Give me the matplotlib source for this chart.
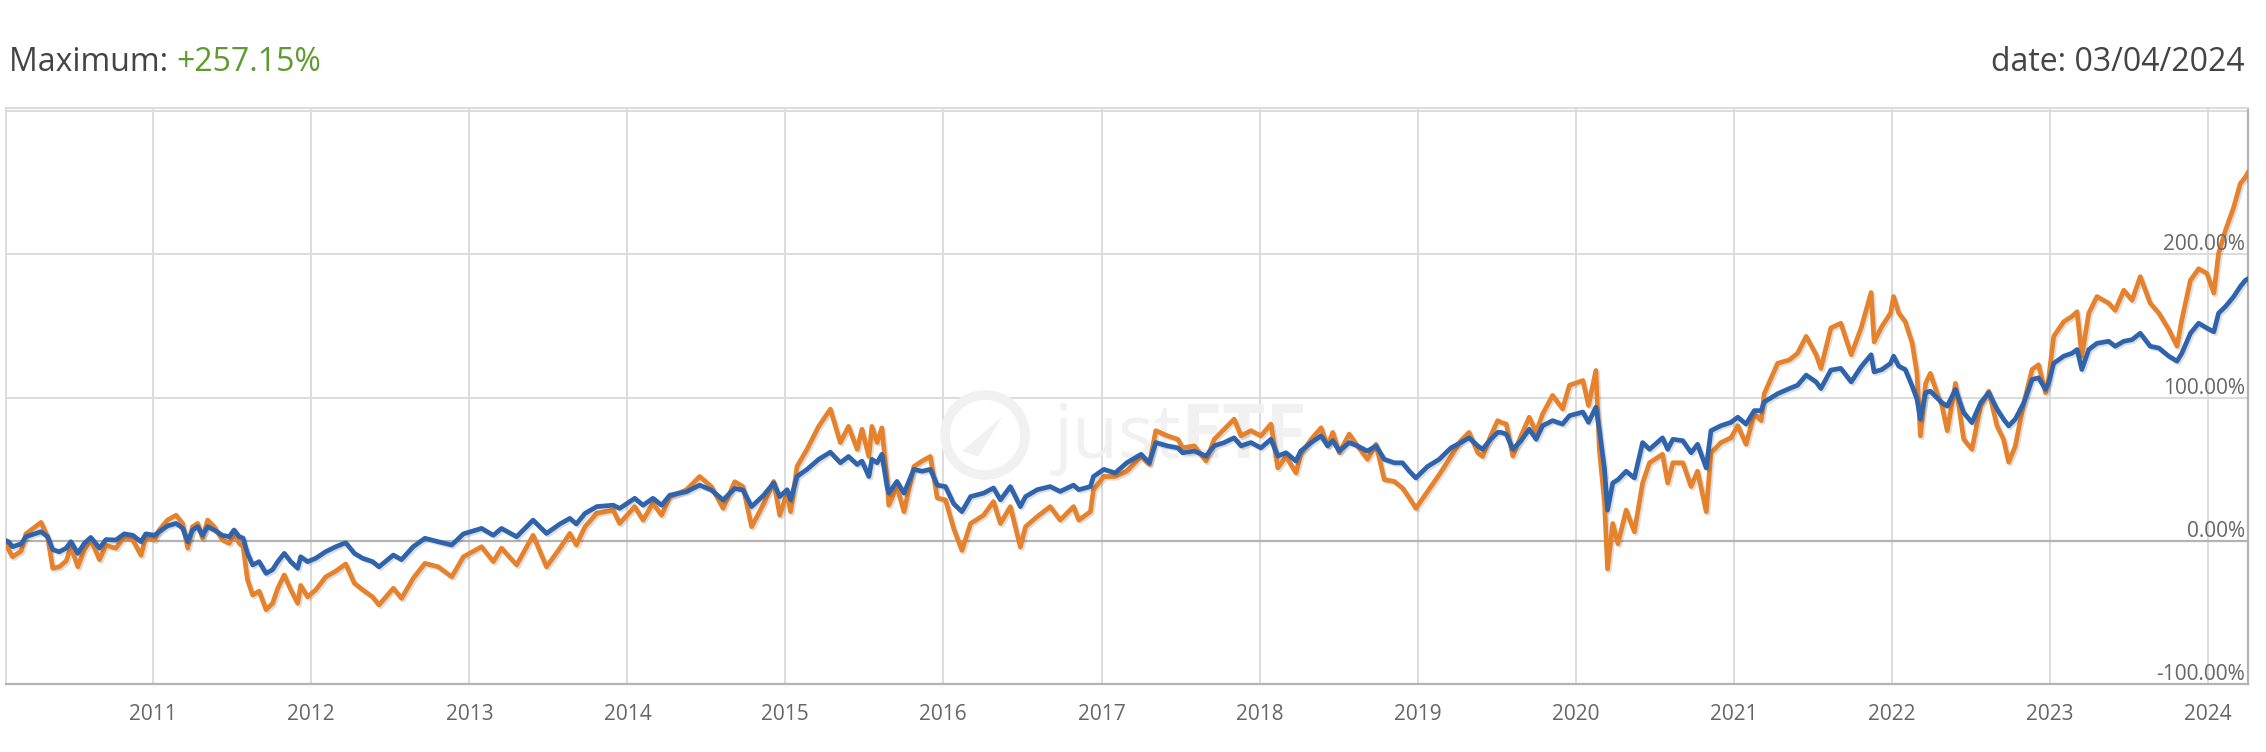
import matplotlib
matplotlib.use("Agg")
import matplotlib.pyplot as plt
import matplotlib.patheffects as pe
import matplotlib.transforms as mtransforms
from matplotlib.patches import Ellipse, Polygon
import pandas as pd

plt.rcParams['font.family'] = ['Open Sans', 'DejaVu Sans']

# ---------------- data ----------------
dates = [
    "2010-01-26", "2010-02-01", "2010-02-10", "2010-03-02", "2010-03-13", "2010-04-17", "2010-05-02",
    "2010-05-14", "2010-05-29", "2010-06-14", "2010-06-25", "2010-07-11", "2010-07-26", "2010-08-10",
    "2010-08-30", "2010-09-14", "2010-10-07", "2010-10-26", "2010-11-15", "2010-12-04", "2010-12-15",
    "2011-01-04", "2011-01-15", "2011-02-03", "2011-02-23", "2011-03-10", "2011-03-22", "2011-04-02",
    "2011-04-14", "2011-04-25", "2011-05-07", "2011-05-22", "2011-06-10", "2011-06-26", "2011-07-07",
    "2011-07-19", "2011-07-28", "2011-08-07", "2011-08-19", "2011-09-03", "2011-09-19", "2011-10-04",
    "2011-10-16", "2011-10-31", "2011-11-15", "2011-12-01", "2011-12-08", "2011-12-24", "2012-01-12",
    "2012-02-04", "2012-02-27", "2012-03-21", "2012-04-10", "2012-04-29", "2012-05-22", "2012-06-06",
    "2012-07-09", "2012-07-28", "2012-08-24", "2012-09-20", "2012-10-21", "2012-11-21", "2012-12-18",
    "2013-01-29", "2013-02-25", "2013-03-16", "2013-04-20", "2013-05-28", "2013-06-28", "2013-07-29",
    "2013-08-21", "2013-09-05", "2013-09-25", "2013-10-22", "2013-11-29", "2013-12-14", "2014-01-18",
    "2014-02-06", "2014-03-01", "2014-03-21", "2014-04-09", "2014-05-17", "2014-06-17", "2014-07-14",
    "2014-08-10", "2014-09-06", "2014-09-25", "2014-10-15", "2014-11-12", "2014-12-05", "2014-12-19",
    "2015-01-05", "2015-01-13", "2015-01-28", "2015-02-20", "2015-03-19", "2015-04-15", "2015-05-08",
    "2015-05-27", "2015-06-16", "2015-06-27", "2015-07-13", "2015-07-20", "2015-08-01", "2015-08-12",
    "2015-08-24", "2015-08-28", "2015-09-16", "2015-10-02", "2015-10-25", "2015-11-13", "2015-12-02",
    "2015-12-18", "2016-01-06", "2016-01-25", "2016-02-13", "2016-03-04", "2016-04-03", "2016-04-26",
    "2016-05-12", "2016-06-04", "2016-06-27", "2016-07-09", "2016-08-05", "2016-09-04", "2016-09-27",
    "2016-10-28", "2016-11-09", "2016-12-06", "2016-12-13", "2017-01-06", "2017-02-01", "2017-02-28",
    "2017-04-02", "2017-04-21", "2017-05-06", "2017-06-02", "2017-06-26", "2017-07-07", "2017-08-03",
    "2017-08-30", "2017-09-18", "2017-10-11", "2017-11-03", "2017-11-19", "2017-12-12", "2018-01-04",
    "2018-01-27", "2018-02-12", "2018-03-03", "2018-03-26", "2018-04-06", "2018-04-30", "2018-05-23",
    "2018-06-07", "2018-06-19", "2018-07-04", "2018-07-27", "2018-08-15", "2018-09-07", "2018-09-27",
    "2018-10-16", "2018-11-08", "2018-11-27", "2018-12-13", "2018-12-28", "2019-01-24", "2019-02-20",
    "2019-03-19", "2019-04-11", "2019-04-30", "2019-05-20", "2019-05-31", "2019-06-19", "2019-07-05",
    "2019-07-13", "2019-07-25", "2019-08-09", "2019-08-28", "2019-09-16", "2019-10-02", "2019-10-17",
    "2019-11-09", "2019-12-02", "2019-12-18", "2020-01-18", "2020-01-31", "2020-02-17", "2020-02-25",
    "2020-03-08", "2020-03-15", "2020-03-27", "2020-04-08", "2020-04-27", "2020-05-16", "2020-06-04",
    "2020-06-20", "2020-07-20", "2020-08-01", "2020-08-13", "2020-09-05", "2020-09-24", "2020-10-09",
    "2020-10-29", "2020-11-09", "2020-12-02", "2020-12-25", "2021-01-10", "2021-01-29", "2021-02-17",
    "2021-03-05", "2021-03-12", "2021-04-12", "2021-05-09", "2021-05-28", "2021-06-17", "2021-07-10",
    "2021-07-21", "2021-08-13", "2021-09-05", "2021-09-29", "2021-10-22", "2021-11-14", "2021-11-21",
    "2021-12-09", "2021-12-29", "2022-01-05", "2022-01-17", "2022-02-01", "2022-02-17", "2022-02-28",
    "2022-03-08", "2022-03-20", "2022-03-31", "2022-04-15", "2022-04-27", "2022-05-09", "2022-05-28",
    "2022-06-16", "2022-07-05", "2022-07-25", "2022-08-13", "2022-09-01", "2022-09-16", "2022-09-28",
    "2022-10-13", "2022-11-02", "2022-11-21", "2022-12-06", "2022-12-22", "2022-12-29", "2023-01-10",
    "2023-02-02", "2023-02-21", "2023-03-05", "2023-03-16", "2023-04-01", "2023-04-20", "2023-05-17",
    "2023-06-01", "2023-06-21", "2023-07-10", "2023-07-29", "2023-08-21", "2023-09-10", "2023-10-03",
    "2023-10-22", "2023-11-02", "2023-11-22", "2023-12-11", "2023-12-30", "2024-01-15", "2024-01-26",
    "2024-02-11", "2024-03-01", "2024-03-16", "2024-03-28", "2024-04-03",
]

blue_pct = [
    0, -0.5, -4, -2, 3, 6.5, 3,
    -6, -7.5, -5, -0.5, -8.6, -1.6, 2.5,
    -5, 1, 0.7, 5, 4, -0.5, 5,
    4, 6.5, 10.5, 12.3, 9, -0.5, 7.7,
    10, 4, 10, 7.7, 4, 3, 7.7,
    3, 2, -8.6, -16.7, -14.4, -22.6, -20,
    -14.4, -8.6, -14.4, -19, -11, -14.4, -12,
    -7.4, -4, -1.2, -8.6, -12, -14.4, -18,
    -9.8, -13, -4, 1.9, -0.5, -2.8, 5,
    8.8, 4, 8.8, 3, 14.6, 5.3, 11.9,
    15.8, 11.9, 19.3, 24, 25, 22.8, 29.8,
    25, 29.8, 25, 32, 34.4, 39, 35.6,
    28.6, 36.7, 35.6, 24, 32, 40.5, 31,
    35.8, 28.7, 45, 50, 57, 62, 54.6,
    59, 53.4, 55.8, 45, 57, 54.6, 60.5,
    38, 33.4, 41.6, 33.4, 50, 48.7, 50,
    39, 38, 26, 20.5, 31, 33.4, 37,
    28.7, 38, 24, 31, 35.8, 38, 34.6,
    39, 35.8, 38, 45, 50, 47.5, 54.6,
    60.5, 54.6, 68.7, 66.4, 65, 61.6, 62.8,
    59.3, 66.4, 68.7, 72, 66.4, 68.7, 65,
    71, 59.3, 61.6, 55.8, 62.8, 68.7, 73.4,
    66.4, 70, 62.8, 68.7, 66.4, 62.8, 66.4,
    57, 54.6, 54.6, 48.7, 44, 52, 57,
    65, 68.7, 72, 66.4, 64, 71, 75.8,
    75.8, 74.6, 64, 70, 78, 71, 80.5,
    84, 81.6, 87.5, 90, 82.8, 93.4, 78,
    50, 21.6, 40.5, 42.8, 48.7, 44, 68.7,
    64, 72, 64, 71, 70, 61.6, 67.5,
    51, 77, 80.5, 82.8, 86.4, 81.6, 91,
    91, 97, 102.8, 106.4, 108.7, 115.8, 111,
    106.4, 119.3, 120.5, 111, 121.6, 130, 118,
    119.7, 124, 129, 122, 119.7, 108, 99,
    85, 103.5, 104.6, 100, 96.5, 94.2, 105.8,
    89.6, 82.6, 96.5, 103.5, 92, 85, 80.3,
    85, 96.5, 112.7, 113.9, 105.8, 110, 124,
    129, 131, 133.6, 119.7, 133.6, 138, 139.4,
    135.9, 139.4, 140.5, 145, 135.9, 134.7, 129,
    125.5, 131, 145, 152, 148.6, 146, 159,
    163.7, 170.6, 177.5, 182, 183,
]

orange_pct = [
    0, -6, -11, -7, 5, 13, 3,
    -19, -18, -14, -4, -18, -6, 0.7,
    -13, -3, -5, 3, 0.7, -10, 3,
    0.7, 7.7, 14.6, 18, 12.3, -5, 10,
    12.3, 2, 14.6, 10, 0.7, -1.6, 5,
    -1.6, -4, -27, -37.7, -35, -48, -43.5,
    -33, -23.7, -34, -43.5, -31, -39, -34,
    -25, -21, -16, -29.5, -34, -39, -44.6,
    -33, -40, -26, -15.6, -18, -25, -11,
    -4, -14.4, -5, -16.7, 4, -18, -5,
    5.3, -2.8, 10, 19.3, 21.6, 12.3, 24,
    14.6, 26.3, 18, 31, 35.6, 45, 38,
    22.8, 41.4, 38, 10, 26, 41.6, 18,
    33.4, 20.5, 52, 64, 80, 92, 68.7,
    80, 64, 78, 59, 80, 68.7, 79,
    42.8, 25, 38, 20.5, 52, 55.8, 59,
    30, 28.7, 8.7, -6.6, 12.2, 18, 27.5,
    12.2, 24, -4.2, 10, 17, 24, 14.6,
    24, 14.6, 20.5, 35.8, 45, 45, 48.7,
    59, 53.4, 77, 73.4, 71, 65, 66.4,
    55.8, 71, 78, 85, 73.4, 77, 73.4,
    81.6, 51, 59, 47.5, 60.5, 71, 79,
    66.4, 75.8, 61.6, 74.6, 66.4, 57, 67.5,
    42.8, 41.6, 37, 30, 22.8, 34.6, 46.3,
    59, 70, 75.8, 61.6, 59, 73.4, 84,
    82.8, 81.6, 59.3, 73.4, 86.4, 75.8, 88.7,
    101.6, 92.2, 108.7, 112, 94.6, 119, 64,
    26.4, -19.5, 12.2, -1.9, 21.6, 6.4, 40.5,
    54.6, 60.5, 40.5, 54.6, 54.6, 38, 48.7,
    20.5, 61.6, 68.7, 72, 80.5, 67.5, 88.7,
    84, 102.8, 124, 126.4, 131, 142.8, 130,
    120.5, 148.7, 152, 130, 148.7, 173.4, 139,
    149.8, 159, 170.6, 159, 153, 138, 117,
    73.4, 110, 117, 103.5, 94.2, 77, 110,
    71, 64, 94.2, 104.6, 80.3, 71, 55,
    66, 96.5, 119.7, 123, 103.5, 112.7, 142.8,
    153, 156.7, 160, 129, 159, 170.6, 166,
    161, 175, 168, 184.5, 166, 159, 147.5,
    136, 154.4, 182, 190, 186.8, 173, 200.7,
    216.9, 233, 249.3, 254, 257.15,
]

year_ticks = [2011, 2012, 2013, 2014, 2015, 2016, 2017, 2018, 2019, 2020, 2021, 2022, 2023, 2024]
y_grid = [-100, 0, 100, 200, 300]
y_labels = [-100, 0, 100, 200]
max_text = "+257.15%"
date_text = "date: 03/04/2024"
x_start, x_end = "2010-01-26", "2024-04-03"

# ---------------- figure ----------------
W, H = 2266, 752
fig = plt.figure(figsize=(W / 100, H / 100), dpi=100)
ax = fig.add_axes([6 / W, (H - 684.3) / H, (2248 - 6) / W, (684.3 - 108) / H])
r = fig.canvas.get_renderer()

t = pd.to_datetime(dates)
ax.set_xlim(pd.Timestamp(x_start), pd.Timestamp(x_end))
ax.set_ylim(-100, 302.2)

grid_c = "#dcdcdc"
dark_c = "#b3b3b3"
wm_c = "#f1f1f1"

# grid
for yr in year_ticks:
    ax.axvline(pd.Timestamp(f"{yr}-01-01"), color=grid_c, lw=1.4, zorder=0)
for v in y_grid:
    if v == 0:
        ax.axhline(v, color=dark_c, lw=1.6, zorder=1)
    elif v != -100:
        ax.axhline(v, color=grid_c, lw=1.4, zorder=0)

# watermark (justETF logo), kept inside the axes so it stays below the lines
wm1 = ax.text(1053 / W, 1 - 458 / H, "just", transform=fig.transFigure, fontsize=54,
              color=wm_c, fontweight="normal", ha="left", va="baseline", zorder=0.5)
bbw = wm1.get_window_extent(renderer=r)
ax.text(bbw.x1 / W, 1 - 458 / H, "ETF", transform=fig.transFigure, fontsize=54,
        color=wm_c, fontweight="bold", ha="left", va="baseline", zorder=0.5)
ax.add_patch(Ellipse((0.4367, 0.4326), width=80 / 2242, height=80 / 576.3, fill=False,
                     edgecolor=wm_c, lw=7, transform=ax.transAxes, zorder=0.5))
ax.add_patch(Polygon([(0.4265, 0.405), (0.4445, 0.465), (0.4335, 0.395)], closed=True,
                     facecolor=wm_c, edgecolor="none", transform=ax.transAxes, zorder=0.5))

shadow = [pe.SimpleLineShadow(offset=(1.3, -1.3), shadow_color="black", alpha=0.13), pe.Normal()]
ax.plot(t, orange_pct, color="#E6822C", lw=3.4, solid_joinstyle="round", zorder=3,
        path_effects=shadow)
ax.plot(t, blue_pct, color="#2F64AD", lw=3.4, solid_joinstyle="round", zorder=4,
        path_effects=shadow)

# axes frame
for s in ["top", "left"]:
    ax.spines[s].set_color(grid_c)
    ax.spines[s].set_linewidth(1.4)
for s in ["bottom", "right"]:
    ax.spines[s].set_color(dark_c)
    ax.spines[s].set_linewidth(1.6)

# x ticks
ax.set_xticks([pd.Timestamp(f"{yr}-01-01") for yr in year_ticks])
ax.set_xticklabels([str(yr) for yr in year_ticks], fontsize=15, color="#666666")
ax.tick_params(axis="x", length=0, pad=14)
ax.set_yticks([])

# y labels inside on the right
lab_tr = mtransforms.blended_transform_factory(ax.transAxes, ax.transData) + \
    mtransforms.ScaledTranslation(-3 / 100, 4 / 100, fig.dpi_scale_trans)
for v in y_labels:
    ax.text(1.0, v, f"{v:.2f}%", transform=lab_tr, ha="right", va="baseline",
            fontsize=15, color="#666666", zorder=5)

# header
fig.text(9 / W, 1 - 71 / H, "Maximum: ", fontsize=23, color="#444444", ha="left", va="baseline")
tmp = fig.text(9 / W, 1 - 71 / H, "Maximum: ", fontsize=23, alpha=0)
bb = tmp.get_window_extent(renderer=r)
tmp.remove()
fig.text(bb.x1 / W, 1 - 71 / H, max_text, fontsize=23, color="#5E9A2E", ha="left", va="baseline")
fig.text(2245 / W, 1 - 71 / H, date_text, fontsize=23, color="#444444", ha="right", va="baseline")

fig.savefig("out.png", dpi=100)
